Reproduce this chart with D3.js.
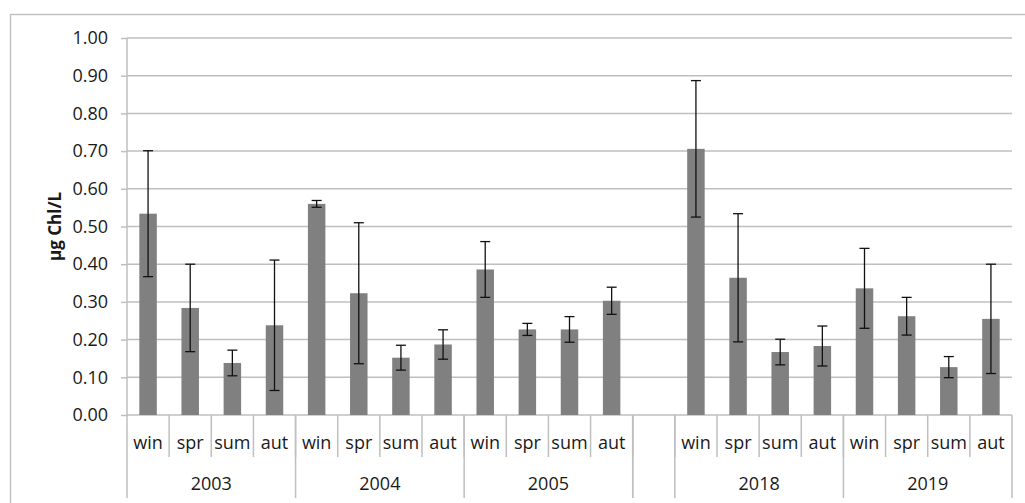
<!DOCTYPE html>
<html>
<head>
<meta charset="utf-8">
<script src="https://cdn.jsdelivr.net/npm/d3@7"></script>
<style>
  html, body { margin: 0; padding: 0; background: #fff; }
  svg { display: block; }
  text { font-family: "Open Sans", "Noto Sans", sans-serif; fill: #1a1a1a; }
</style>
</head>
<body>
<svg id="chart" width="1025" height="503"></svg>
<script>
// ---- data ----
const years = ["2003", "2004", "2005", "", "2018", "2019"]; // "" = empty spacer group
const seasons = ["win", "spr", "sum", "aut"];
const means = [
  0.534, 0.284, 0.138, 0.238,   // 2003
  0.560, 0.323, 0.152, 0.187,   // 2004
  0.386, 0.227, 0.227, 0.303,   // 2005
  0.706, 0.364, 0.167, 0.183,   // 2018
  0.336, 0.262, 0.127, 0.255    // 2019
];
const errors = [
  0.167, 0.116, 0.034, 0.173,
  0.009, 0.187, 0.033, 0.039,
  0.074, 0.016, 0.034, 0.036,
  0.181, 0.170, 0.034, 0.053,
  0.106, 0.050, 0.028, 0.145
];
const yTicks = [0, 0.1, 0.2, 0.3, 0.4, 0.5, 0.6, 0.7, 0.8, 0.9, 1.0];
const yLabel = "µg Chl/L";

(function () {
// ---- build slots ----
const slots = [];
const groups = [];
let k = 0;
years.forEach((yr, gi) => {
  const start = slots.length;
  if (yr === "") {
    slots.push({ key: "gap" + gi, season: "", year: "", idx: -1 });
  } else {
    seasons.forEach(s => {
      slots.push({ key: yr + "-" + s, season: s, year: yr, idx: k });
      k++;
    });
  }
  groups.push({ year: yr, first: slots[start].key, last: slots[slots.length - 1].key });
});

// ---- layout ----
const svg = d3.select("#chart");
const mLeft = 127, mRight = 1012, mTop = 38, mBottom = 415;
const gridColor = "#bfbfbf";

// outer frame
svg.append("rect")
  .attr("x", 10.5).attr("y", 14.5)
  .attr("width", 1030).attr("height", 500)
  .attr("fill", "none").attr("stroke", "#c3c3c3").attr("stroke-width", 1.5);

const x = d3.scaleBand().domain(slots.map(d => d.key)).range([mLeft, mRight]).paddingInner(0).paddingOuter(0);
const y = d3.scaleLinear().domain([0, 1]).range([mBottom, mTop]);

// gridlines
svg.append("g")
  .selectAll("line").data(yTicks.filter(t => t > 0)).join("line")
  .attr("x1", mLeft).attr("x2", mRight)
  .attr("y1", d => y(d)).attr("y2", d => y(d))
  .attr("stroke", gridColor).attr("stroke-width", 1.5);

// y axis
const yAxis = d3.axisLeft(y).tickValues(yTicks).tickFormat(d3.format(".2f")).tickSize(6).tickPadding(13);
const gy = svg.append("g").attr("transform", `translate(${mLeft},0)`).call(yAxis);
gy.select(".domain").remove();
gy.selectAll(".tick line").attr("stroke", gridColor).attr("stroke-width", 1.5);
gy.selectAll(".tick text").style("font-size", "18px").attr("fill", "#1a1a1a");

// left axis line (extends into category area)
svg.append("line")
  .attr("x1", mLeft).attr("x2", mLeft).attr("y1", mTop).attr("y2", 498)
  .attr("stroke", gridColor).attr("stroke-width", 1.5);
// bottom axis line
svg.append("line")
  .attr("x1", mLeft).attr("x2", mRight).attr("y1", mBottom).attr("y2", mBottom)
  .attr("stroke", gridColor).attr("stroke-width", 1.5);

// y label
svg.append("text")
  .attr("transform", `translate(61,${(mTop + mBottom) / 2}) rotate(-90)`)
  .attr("text-anchor", "middle")
  .style("font-size", "17px").style("font-weight", "bold")
  .text(yLabel);

// bars
const barW = x.bandwidth() * 0.415;
const dataSlots = slots.filter(d => d.idx >= 0);
svg.append("g")
  .selectAll("rect").data(dataSlots).join("rect")
  .attr("x", d => x(d.key) + (x.bandwidth() - barW) / 2)
  .attr("width", barW)
  .attr("y", d => y(means[d.idx]))
  .attr("height", d => y(0) - y(means[d.idx]))
  .attr("fill", "#808080");

// error bars
const eb = svg.append("g").attr("stroke", "#111").attr("stroke-width", 1.3);
const capW = 10;
dataSlots.forEach(d => {
  const cx = x(d.key) + x.bandwidth() / 2;
  const hi = means[d.idx] + errors[d.idx];
  const lo = means[d.idx] - errors[d.idx];
  eb.append("line").attr("x1", cx).attr("x2", cx).attr("y1", y(hi)).attr("y2", y(lo));
  eb.append("line").attr("x1", cx - capW / 2).attr("x2", cx + capW / 2).attr("y1", y(hi)).attr("y2", y(hi));
  eb.append("line").attr("x1", cx - capW / 2).attr("x2", cx + capW / 2).attr("y1", y(lo)).attr("y2", y(lo));
});

// category dividers (season level)
const cat = svg.append("g");
slots.forEach((d, i) => {
  if (i === 0) return;
  const xx = x(d.key);
  cat.append("line").attr("x1", xx).attr("x2", xx).attr("y1", mBottom).attr("y2", 457)
    .attr("stroke", gridColor).attr("stroke-width", 1.5);
});
// group dividers
const groupEdges = new Set();
groups.forEach(g => { groupEdges.add(x(g.first)); groupEdges.add(x(g.last) + x.bandwidth()); });
groupEdges.forEach(xx => {
  if (Math.abs(xx - mLeft) < 0.5) return;
  cat.append("line").attr("x1", xx).attr("x2", xx).attr("y1", mBottom).attr("y2", 498)
    .attr("stroke", gridColor).attr("stroke-width", 1.5);
});

// season labels
cat.selectAll("text.season").data(slots.filter(d => d.season)).join("text")
  .attr("class", "season")
  .attr("x", d => x(d.key) + x.bandwidth() / 2)
  .attr("y", 449)
  .attr("text-anchor", "middle")
  .style("font-size", "18px")
  .text(d => d.season);

// year labels
cat.selectAll("text.year").data(groups.filter(g => g.year)).join("text")
  .attr("class", "year")
  .attr("x", g => (x(g.first) + x(g.last) + x.bandwidth()) / 2)
  .attr("y", 490)
  .attr("text-anchor", "middle")
  .style("font-size", "18px")
  .text(g => g.year);
})();
</script>
</body>
</html>
